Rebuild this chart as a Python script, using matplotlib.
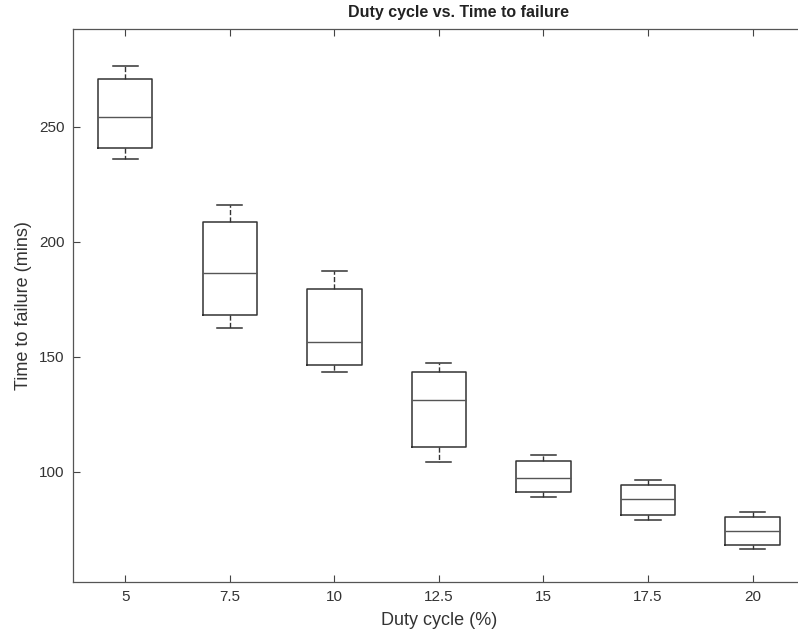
# Duty cycle vs. time to failure, box plot redrawn from summary statistics
import matplotlib
matplotlib.use("Agg")
import matplotlib.pyplot as plt

plt.rcParams['font.family'] = ['Liberation Sans', 'DejaVu Sans']

# ====== DATA ======
duty_labels = ["5", "7.5", "10", "12.5", "15", "17.5", "20"]
whisker_low = [236.1, 162.5, 143.3, 104.2, 89.0, 79.1, 66.3]
q1 = [240.7, 168.3, 146.5, 110.9, 91.0, 81.0, 68.0]
median = [254.1, 186.3, 156.3, 131.3, 97.1, 88.1, 74.2]
q3 = [270.7, 208.7, 179.4, 143.3, 104.7, 94.2, 80.3]
whisker_high = [276.4, 216.1, 187.4, 147.3, 107.2, 96.3, 82.3]
# ========================================

stats = []
for i, lab in enumerate(duty_labels):
    stats.append(dict(label=lab, whislo=whisker_low[i], q1=q1[i], med=median[i],
                      q3=q3[i], whishi=whisker_high[i], fliers=[]))

fig = plt.figure(figsize=(7.98, 6.36), dpi=100)
ax = fig.add_axes([0.0915, 0.0854, 0.917, 0.8685])

line_col = '#333333'
ax.bxp(stats, positions=range(1, len(stats) + 1), widths=0.52, showfliers=False,
       boxprops=dict(color=line_col, linewidth=1.1),
       whiskerprops=dict(color=line_col, linewidth=1.0, linestyle='--'),
       capprops=dict(color=line_col, linewidth=1.1),
       medianprops=dict(color='#555555', linewidth=1.0),
       capwidths=0.24)

ax.set_xlim(0.5, 7.5)
ax.set_ylim(52.2, 292.3)
ax.set_yticks([100, 150, 200, 250])
ax.set_xticks(range(1, len(duty_labels) + 1))
ax.set_xticklabels(duty_labels)

for s in ax.spines.values():
    s.set_color('#555555')
    s.set_linewidth(0.9)
ax.tick_params(direction='in', length=5, width=0.8, color='#444444',
               labelsize=11, labelcolor='#333333', top=True, right=True, pad=6)

ax.set_xlabel('Duty cycle (%)', fontsize=13, color='#333333', labelpad=6)
ax.set_ylabel('Time to failure (mins)', fontsize=13, color='#333333', labelpad=5)
fig.text(459 / 798, 1 - 13 / 636, 'Duty cycle vs. Time to failure', ha='center', va='center',
         fontsize=11.5, fontweight='bold', color='#222222')

fig.savefig('out.png', dpi=100)
